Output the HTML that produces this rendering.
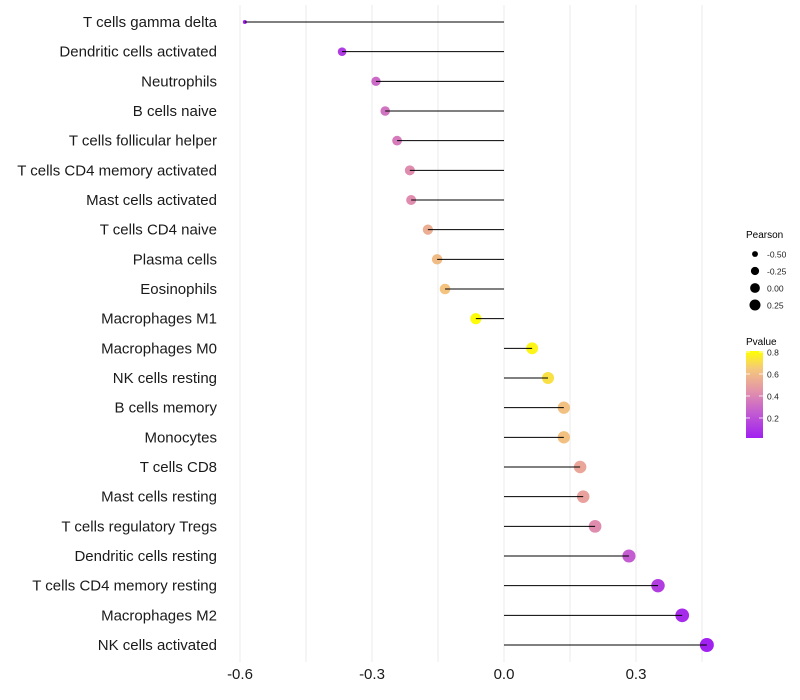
<!DOCTYPE html>
<html><head><meta charset="utf-8"><style>
html,body{margin:0;padding:0;background:#fff;}
svg{display:block;font-family:"Liberation Sans",sans-serif;}
</style></head><body>
<svg id="chart" width="800" height="700" viewBox="0 0 800 700">
<defs>
<linearGradient id="pgrad" x1="0" y1="1" x2="0" y2="0">
<stop offset="0" stop-color="#a020f0"/>
<stop offset="0.3" stop-color="#c45ed0"/>
<stop offset="0.55" stop-color="#e495a8"/>
<stop offset="0.8" stop-color="#f5c97a"/>
<stop offset="1" stop-color="#ffff00"/>
</linearGradient>
</defs>
<g id="grid"></g>
<g id="marks"></g>
<g id="labels"></g>
<g id="xticks"></g>
<g id="sizeleg">
<text x="746" y="238" font-size="10" fill="#000">Pearson</text>
</g>
<g>
<text x="746" y="345" font-size="10" fill="#000">Pvalue</text>
<rect x="746" y="351" width="17" height="87" fill="url(#pgrad)"/>
<g id="cbticks"></g>
</g>
</svg>
<script>
const categories=["T cells gamma delta","Dendritic cells activated","Neutrophils","B cells naive","T cells follicular helper","T cells CD4 memory activated","Mast cells activated","T cells CD4 naive","Plasma cells","Eosinophils","Macrophages M1","Macrophages M0","NK cells resting","B cells memory","Monocytes","T cells CD8","Mast cells resting","T cells regulatory  Tregs ","Dendritic cells resting","T cells CD4 memory resting","Macrophages M2","NK cells activated"];
const pearson=[-0.589,-0.368,-0.291,-0.270,-0.243,-0.214,-0.211,-0.173,-0.152,-0.134,-0.064,0.064,0.100,0.136,0.136,0.173,0.180,0.207,0.284,0.350,0.405,0.461];
const pvalue=[0.01,0.12,0.30,0.33,0.36,0.42,0.42,0.55,0.60,0.63,0.80,0.78,0.72,0.62,0.62,0.52,0.50,0.42,0.25,0.13,0.06,0.02];
const xTicks=[-0.6,-0.3,0.0,0.3];
const xMinor=[-0.45,-0.15,0.15,0.45];
const sizeLegend=[-0.5,-0.25,0.0,0.25];
const cbTicks=[0.2,0.4,0.6,0.8];
const NS="http://www.w3.org/2000/svg";
const xs=v=>504+v*440;
const ys=i=>22+i*(623/21);
const pMin=Math.min(...pearson),pMax=Math.max(...pearson);
const rs=v=>2+5*Math.sqrt(Math.max(0,Math.min(1,(v-pMin)/(pMax-pMin))));
const cy=p=>438-(p-0.018)*110;
const stops=[[0,[160,32,240]],[0.3,[196,94,208]],[0.55,[228,149,168]],[0.8,[245,201,122]],[1,[255,255,0]]];
function col(p){let t=Math.min(1,Math.max(0,(p-0.018)/(0.81-0.018)));for(let k=1;k<stops.length;k++){if(t<=stops[k][0]){const a=stops[k-1],b=stops[k];const f=(t-a[0])/(b[0]-a[0]);const c=a[1].map((x,j)=>Math.round(x+(b[1][j]-x)*f));return `rgb(${c})`;}}return "rgb(255,255,0)";}
function mk(tag,attrs,parent){const e=document.createElementNS(NS,tag);for(const k in attrs)e.setAttribute(k,attrs[k]);parent.appendChild(e);return e;}
const grid=document.getElementById('grid');
xTicks.concat(xMinor).forEach(v=>{const l=mk('line',{x1:xs(v),x2:xs(v),y1:5,y2:662,stroke:'#ebebeb','stroke-width':1},grid);});
const marks=document.getElementById('marks'),labels=document.getElementById('labels');
categories.forEach((c,i)=>{
 const y=ys(i);
 const pt=mk('circle',{cx:xs(pearson[i]),cy:y,r:rs(pearson[i]),fill:col(pvalue[i])},marks);
 
 const ln=mk('line',{x1:xs(0),x2:xs(pearson[i]),y1:y,y2:y,stroke:'#000','stroke-width':1},marks);
 
 const t=mk('text',{x:217,y:y+5,'text-anchor':'end','font-size':15,fill:'#1a1a1a'},labels);
 t.textContent=c;
});
const xt=document.getElementById('xticks');
xTicks.forEach(v=>{const t=mk('text',{x:xs(v),y:679,'text-anchor':'middle','font-size':15,fill:'#1a1a1a'},xt);t.textContent=v.toFixed(1);});
const sl=document.getElementById('sizeleg');
sizeLegend.forEach((v,k)=>{const y=254+k*17;const c=mk('circle',{cx:755,cy:y,r:rs(v)*0.85,fill:'#000'},sl);
 const t=mk('text',{x:767,y:y+3.5,'font-size':8.5,fill:'#222'},sl);t.textContent=v.toFixed(2);});
const cb=document.getElementById('cbticks');
cbTicks.forEach(p=>{const y=cy(p);const l=mk('line',{x1:746,x2:750,y1:y,y2:y,stroke:'#fff','stroke-width':0.8},cb);
 const l2=mk('line',{x1:759,x2:763,y1:y,y2:y,stroke:'#fff','stroke-width':0.8},cb);
 const t=mk('text',{x:767,y:y+3.5,'font-size':8.5,fill:'#222'},cb);t.textContent=p.toFixed(1);});
</script>
</body></html>
